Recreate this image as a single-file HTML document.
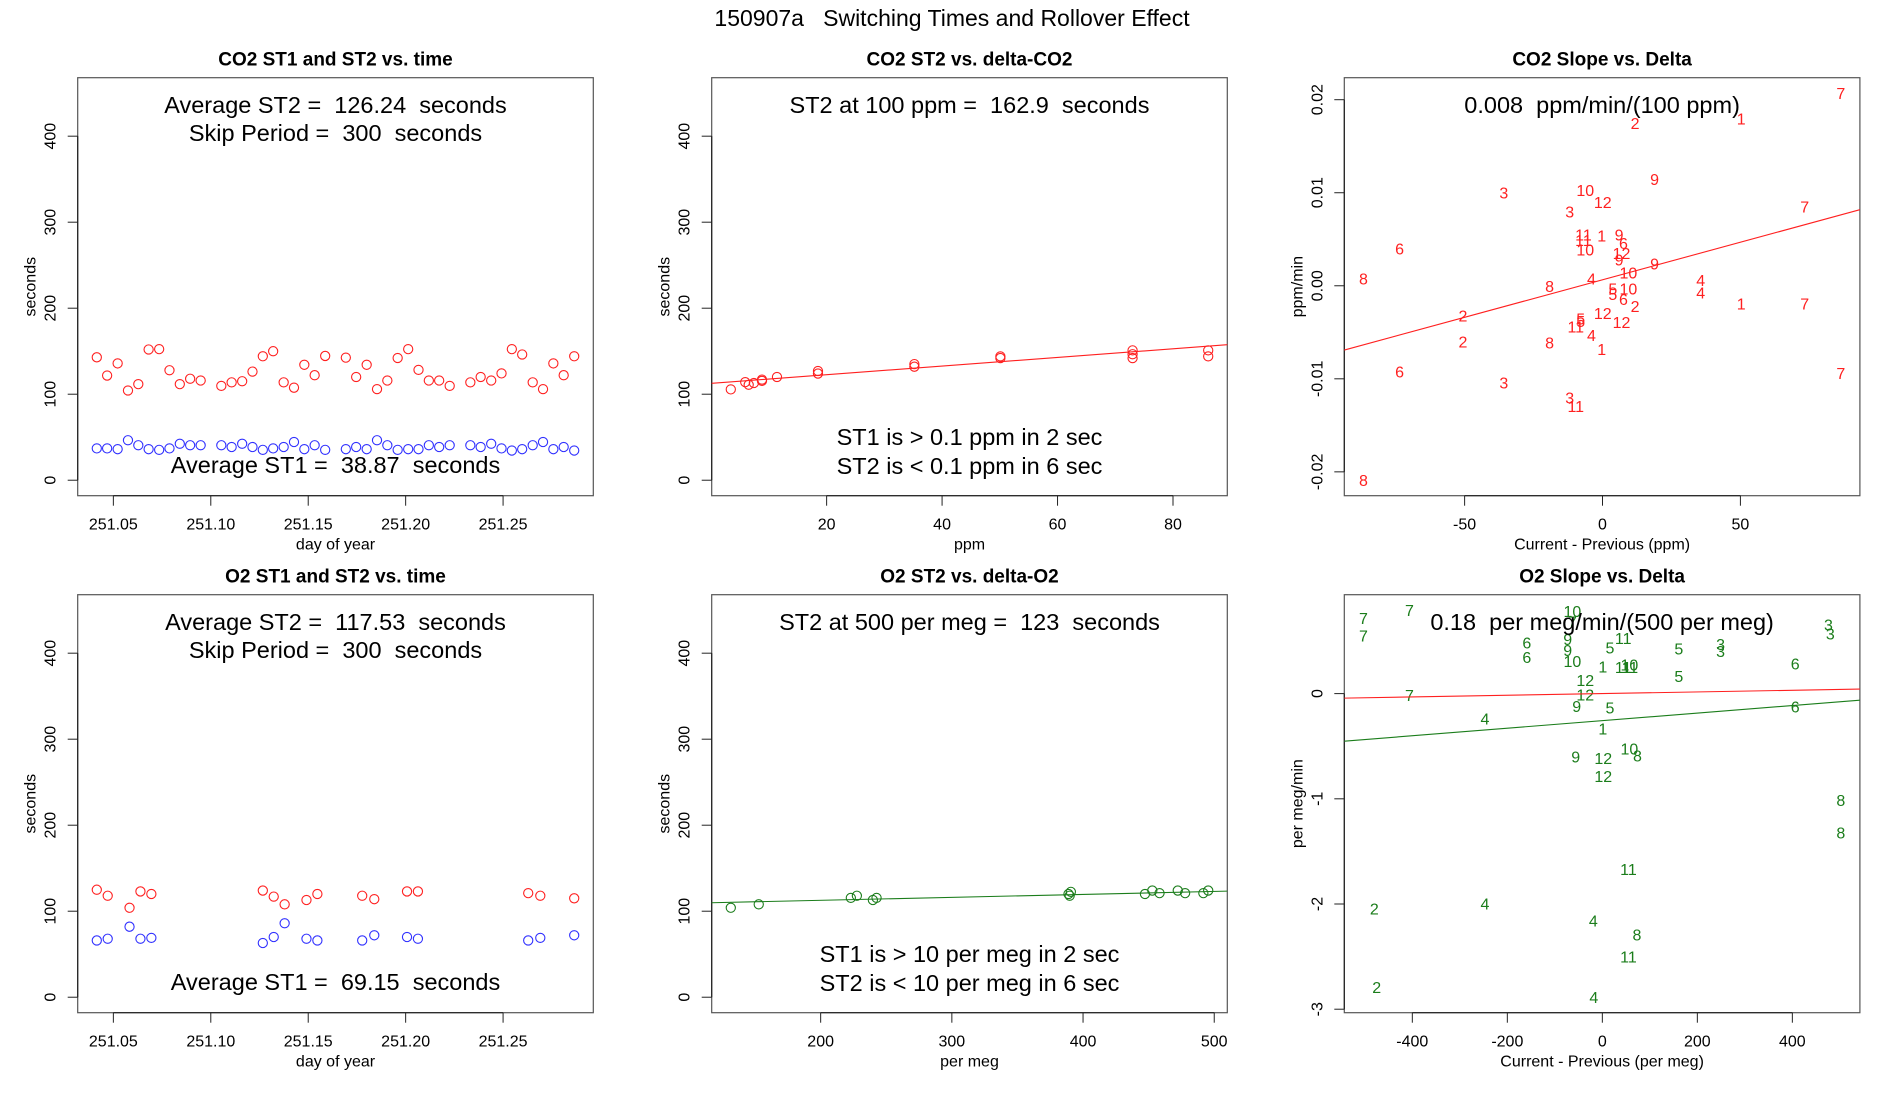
<!DOCTYPE html>
<html><head><meta charset="utf-8"><style>
html,body{margin:0;padding:0;background:#fff;}
svg{display:block;font-family:"Liberation Sans",Arial,sans-serif;}
svg text{white-space:pre;}
</style></head><body>
<svg id="fig" width="1900" height="1100" viewBox="0 0 1900 1100" xmlns="http://www.w3.org/2000/svg" xml:space="preserve">
<rect x="0" y="0" width="1900" height="1100" fill="#fff"/>
<text x="952" y="26" font-size="23" text-anchor="middle">150907a   Switching Times and Rollover Effect</text>
</svg>
<script>
// ---------- Panel 1: CO2 ST1 and ST2 vs time ----------
const co2Time = [251.0415,251.0468,251.0522,251.0575,251.0628,251.0681,251.0735,251.0788,251.0841,251.0894,251.0948,
 251.1054,251.1107,251.1161,251.1214,251.1267,251.1320,251.1374,251.1427,251.1480,251.1533,251.1587,
 251.1693,251.1746,251.1800,251.1853,251.1906,251.1959,251.2013,251.2066,251.2119,251.2172,251.2226,
 251.2332,251.2385,251.2439,251.2492,251.2545,251.2598,251.2652,251.2705,251.2758,251.2811,251.2865];
const co2ST2 = [142.9,121.7,135.8,104.3,111.7,152.0,152.4,127.9,111.7,118.0,115.9,
 109.7,113.8,115.1,126.3,144.1,150.0,113.8,107.6,134.2,122.1,144.5,
 142.5,120.0,134.2,105.9,115.9,142.1,152.4,128.3,115.9,115.9,109.7,
 113.8,120.0,115.9,124.2,152.4,146.2,113.8,105.9,135.8,122.1,144.1];
const co2ST1 = [37.0,37.0,36.1,46.5,40.7,36.1,35.3,37.0,42.4,40.7,40.7,
 40.7,38.6,42.4,38.6,35.3,37.0,38.6,44.4,36.1,40.7,35.3,
 36.1,38.6,36.1,46.5,40.7,35.3,36.1,36.1,40.7,38.6,40.7,
 40.7,38.6,42.4,37.0,34.5,36.1,40.7,44.4,36.1,38.6,34.5];
// ---------- Panel 4: O2 ST1 and ST2 vs time ----------
const o2Time = [251.0415,251.0471,251.0583,251.0639,251.0695,251.1267,251.1323,251.1379,251.1491,251.1547,
 251.1777,251.1839,251.2007,251.2063,251.2629,251.2691,251.2865];
const o2ST2 = [125,118,104,123,120,124,117,108,113,120,118,114,123,123,121,118,115];
const o2ST1 = [66,68,82,68,69,63,70,86,68,66,66,72,70,68,66,69,72];
// ---------- Panel 2: CO2 ST2 vs delta-CO2 ----------
const co2Delta = [3.4,5.9,6.5,7.4,8.8,8.8,11.4,18.5,18.5,35.2,35.2,50.1,50.1,73,73,73,86.1,86.1];
const co2DeltaST2 = [105.6,114,111,113,115.5,117,120,127,124,135,132,142,144,146.5,151,142,151,144];
const co2DeltaFit = [112.6,0.503];
// ---------- Panel 5: O2 ST2 vs delta-O2 ----------
const o2Delta = [131.5,152.8,223,227.6,239.8,242.6,388.9,389.8,390.7,447.2,452.8,458.3,472.2,477.8,491.7,495.4];
const o2DeltaST2 = [104,108,115.5,118,113,115.5,120,118,122.5,120,124,121,124,121,121,124];
const o2DeltaFit = [105.8,0.0344];
// ---------- Panel 3: CO2 slope vs delta ----------
const co2SlopeLabels = ["7","1","2","9","3","10","12","3","7","11","1","9","6","11","10","6","12","9","9","8","10","4","8","4","5","10","5","4","6","2","1","7","2","12","5","5","12","11","4","2","8","1","6","7","3","3","11","8"];
const co2SlopeX = [86.4,50.3,11.8,18.9,-35.8,-6.25,0.1,-11.9,73.3,-6.9,-0.3,6.0,7.6,-6.9,-6.25,-73.6,6.9,6.0,18.9,-86.7,9.4,-4.0,-19.2,35.6,3.75,9.4,3.75,35.6,7.6,11.8,50.3,73.3,-50.6,0.1,-7.9,-7.9,6.9,-9.7,-4.0,-50.6,-19.2,-0.3,-73.6,86.4,-35.8,-11.9,-9.7,-86.7];
const co2SlopeY = [0.0207,0.0180,0.0175,0.0115,0.0100,0.0103,0.0090,0.0080,0.0085,0.0055,0.0054,0.0055,0.0046,0.0049,0.0039,0.0040,0.0035,0.0028,0.0024,0.0008,0.0014,0.0008,0.0000,0.0006,-0.0003,-0.0003,-0.0009,-0.0007,-0.0014,-0.0022,-0.0019,-0.0019,-0.0032,-0.0029,-0.0035,-0.0038,-0.0039,-0.0044,-0.0053,-0.0060,-0.0061,-0.0068,-0.0092,-0.0094,-0.0104,-0.0120,-0.0129,-0.0209];
const co2SlopeFit = [0.000645,0.0000807];
// ---------- Panel 6: O2 slope vs delta ----------
const o2SlopeLabels = ["7","7","7","10","7","9","9","6","6","10","11","5","5","3","3","3","3","6","1","11","10","11","5","12","12","7","9","5","6","4","1","10","8","9","12","12","8","8","11","2","4","4","8","11","2","4"];
const o2SlopeX = [-503,-406,-503,-63,-63,-73,-73,-159,-159,-63,44,16,161,249,249,476,480,406,1,44,57,58,161,-36,-36,-406,-54,16,406,-247,1,57,74,-56,2,2,502,502,55,-480,-247,-19,73,55,-475,-18];
const o2SlopeY = [0.717,0.793,0.554,0.783,0.685,0.52,0.416,0.488,0.347,0.308,0.527,0.439,0.429,0.472,0.406,0.658,0.570,0.285,0.259,0.252,0.275,0.252,0.167,0.128,-0.010,-0.013,-0.118,-0.134,-0.124,-0.236,-0.331,-0.521,-0.586,-0.599,-0.612,-0.783,-1.009,-1.320,-1.667,-2.044,-1.995,-2.159,-2.290,-2.499,-2.787,-2.886];
const o2SlopeFit = [-0.257,0.000359];
const o2RefFit = [0,0.0000792];

const svg = document.getElementById('fig');
const NS = 'http://www.w3.org/2000/svg';
function mk(tag, attrs, parent){ const e=document.createElementNS(NS,tag); for(const k in attrs) e.setAttribute(k,attrs[k]); (parent||svg).appendChild(e); return e; }
function ext(lo,hi){ const d=(hi-lo)*0.04; return [lo-d,hi+d]; }
function rng(a){ return [Math.min(...a),Math.max(...a)]; }

const RED='#ff2020', BLUE='#3030ff', GREEN='#1b7d1b';

function panel(o){
  const g = mk('g',{});
  
  
  const L=o.left, T=o.top, W=515.6, H=418;
  const xl=o.xlim, yl=o.ylim;
  const sx=v=>L+(v-xl[0])/(xl[1]-xl[0])*W;
  const sy=v=>T+H-(v-yl[0])/(yl[1]-yl[0])*H;
  const t = mk('text',{x:L+W/2,y:T-12,'font-size':19,'font-weight':'bold','text-anchor':'middle'},g);
  t.textContent=o.title;
  
  
  const box = mk('rect',{x:L,y:T,width:W,height:H,fill:'none',stroke:'#555','stroke-width':1.2},g);
  
  
  const xa = mk('g',{},g);
  
  
  mk('line',{x1:sx(o.xticks[0]),x2:sx(o.xticks[o.xticks.length-1]),y1:T+H,y2:T+H,stroke:'#222','stroke-width':1.2},xa);
  o.xticks.forEach((v,i)=>{
    mk('line',{x1:sx(v),x2:sx(v),y1:T+H,y2:T+H+10,stroke:'#222','stroke-width':1},xa);
    const tl=mk('text',{x:sx(v),y:T+H+34,'font-size':16,'text-anchor':'middle'},xa);
    tl.textContent=o.xlabels?o.xlabels[i]:String(v);
    
    
  });
  const xt=mk('text',{x:L+W/2,y:T+H+54,'font-size':16,'text-anchor':'middle'},g);
  xt.textContent=o.xtitle;
  
  
  const ya = mk('g',{},g);
  
  
  mk('line',{x1:L,x2:L,y1:sy(o.yticks[0]),y2:sy(o.yticks[o.yticks.length-1]),stroke:'#222','stroke-width':1.2},ya);
  o.yticks.forEach((v,i)=>{
    mk('line',{x1:L-10,x2:L,y1:sy(v),y2:sy(v),stroke:'#222','stroke-width':1},ya);
    const tl=mk('text',{x:0,y:0,'font-size':16,'text-anchor':'middle',transform:`translate(${L-22},${sy(v)}) rotate(-90)`},ya);
    tl.textContent=o.ylabels?o.ylabels[i]:String(v);
    
    
  });
  const yt=mk('text',{x:0,y:0,'font-size':16,'text-anchor':'middle',transform:`translate(${L-42},${T+H/2}) rotate(-90)`},g);
  yt.textContent=o.ytitle;
  
  
  return {g,sx,sy,L,T,W,H,xl};
}
function circles(p, xs, ys, col, name){
  xs.forEach((x,i)=>{
    const c=mk('circle',{cx:p.sx(x),cy:p.sy(ys[i]),r:4.6,fill:'none',stroke:col,'stroke-width':1.1},p.g);
    
    
  });
}
function labels(p, xs, ys, labs, col){
  xs.forEach((x,i)=>{
    const t=mk('text',{x:p.sx(x),y:p.sy(ys[i])+6,'font-size':16,'text-anchor':'middle',fill:col},p.g);
    t.textContent=labs[i];
    
    
  });
}
function fitLine(p, fit, col, name){
  const x0=p.xl[0], x1=p.xl[1];
  const y0=fit[0]+fit[1]*x0, y1=fit[0]+fit[1]*x1;
  const l=mk('line',{x1:p.sx(x0),y1:p.sy(y0),x2:p.sx(x1),y2:p.sy(y1),stroke:col,'stroke-width':1.1},p.g);
  
  
}
function note(p, y, txt){
  const t=mk('text',{x:p.L+p.W/2,y:y,'font-size':23.5,'text-anchor':'middle'},p.g);
  t.textContent=txt;
  
  
}
const cols=[77.7,711.7,1344.3], rows=[77.7,594.7];
const secYlim=ext(0,450);
const timeTicks=[251.05,251.10,251.15,251.20,251.25];
const timeLabels=['251.05','251.10','251.15','251.20','251.25'];
const secTicks=[0,100,200,300,400];

let p=panel({name:'co2-time-panel',left:cols[0],top:rows[0],xlim:ext(...rng(co2Time)),ylim:secYlim,xticks:timeTicks,xlabels:timeLabels,yticks:secTicks,title:'CO2 ST1 and ST2 vs. time',xtitle:'day of year',ytitle:'seconds'});
circles(p,co2Time,co2ST2,RED,'st2-point');
circles(p,co2Time,co2ST1,BLUE,'st1-point');
note(p,113,'Average ST2 =  126.24  seconds');
note(p,141,'Skip Period =  300  seconds');
note(p,473,'Average ST1 =  38.87  seconds');

p=panel({name:'co2-delta-panel',left:cols[1],top:rows[0],xlim:ext(...rng(co2Delta)),ylim:secYlim,xticks:[20,40,60,80],yticks:secTicks,title:'CO2 ST2 vs. delta-CO2',xtitle:'ppm',ytitle:'seconds'});
circles(p,co2Delta,co2DeltaST2,RED,'st2-point');
fitLine(p,co2DeltaFit,RED,'fit-line');
note(p,113,'ST2 at 100 ppm =  162.9  seconds');
note(p,445,'ST1 is > 0.1 ppm in 2 sec');
note(p,474,'ST2 is < 0.1 ppm in 6 sec');

p=panel({name:'co2-slope-panel',left:cols[2],top:rows[0],xlim:ext(...rng(co2SlopeX)),ylim:ext(...rng(co2SlopeY)),xticks:[-50,0,50],yticks:[-0.02,-0.01,0,0.01,0.02],ylabels:['-0.02','-0.01','0.00','0.01','0.02'],title:'CO2 Slope vs. Delta',xtitle:'Current - Previous (ppm)',ytitle:'ppm/min'});
note(p,113,'0.008  ppm/min/(100 ppm)');
labels(p,co2SlopeX,co2SlopeY,co2SlopeLabels,RED);
fitLine(p,co2SlopeFit,RED,'fit-line');

p=panel({name:'o2-time-panel',left:cols[0],top:rows[1],xlim:ext(...rng(co2Time)),ylim:secYlim,xticks:timeTicks,xlabels:timeLabels,yticks:secTicks,title:'O2 ST1 and ST2 vs. time',xtitle:'day of year',ytitle:'seconds'});
circles(p,o2Time,o2ST2,RED,'st2-point');
circles(p,o2Time,o2ST1,BLUE,'st1-point');
note(p,630,'Average ST2 =  117.53  seconds');
note(p,658,'Skip Period =  300  seconds');
note(p,990,'Average ST1 =  69.15  seconds');

p=panel({name:'o2-delta-panel',left:cols[1],top:rows[1],xlim:ext(...rng(o2Delta)),ylim:secYlim,xticks:[200,300,400,500],yticks:secTicks,title:'O2 ST2 vs. delta-O2',xtitle:'per meg',ytitle:'seconds'});
circles(p,o2Delta,o2DeltaST2,GREEN,'st2-point');
fitLine(p,o2DeltaFit,GREEN,'fit-line');
note(p,630,'ST2 at 500 per meg =  123  seconds');
note(p,962,'ST1 is > 10 per meg in 2 sec');
note(p,991,'ST2 is < 10 per meg in 6 sec');

p=panel({name:'o2-slope-panel',left:cols[2],top:rows[1],xlim:ext(...rng(o2SlopeX)),ylim:ext(...rng(o2SlopeY)),xticks:[-400,-200,0,200,400],yticks:[-3,-2,-1,0],title:'O2 Slope vs. Delta',xtitle:'Current - Previous (per meg)',ytitle:'per meg/min'});
labels(p,o2SlopeX,o2SlopeY,o2SlopeLabels,GREEN);
note(p,630,'0.18  per meg/min/(500 per meg)');
fitLine(p,o2RefFit,RED,'reference-line');
fitLine(p,o2SlopeFit,GREEN,'fit-line');
</script>
</body></html>
